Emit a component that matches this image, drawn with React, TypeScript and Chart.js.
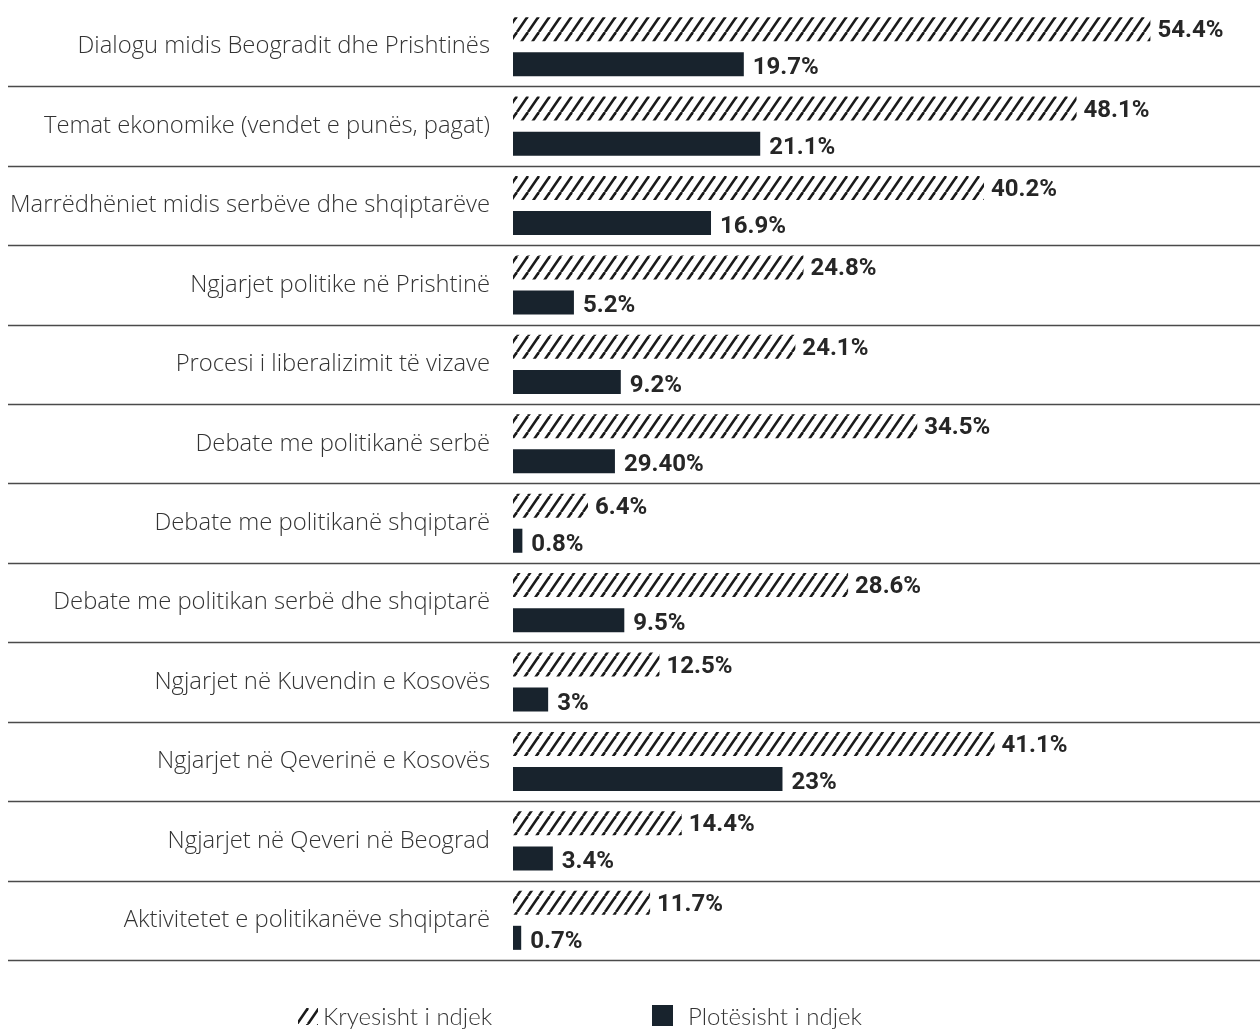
import React, { useEffect, useRef } from "react";
import { Chart, registerables } from "chart.js";

Chart.register(...registerables);

const categories = [
  "Dialogu midis Beogradit dhe Prishtinës",
  "Temat ekonomike (vendet e punës, pagat)",
  "Marrëdhëniet midis serbëve dhe shqiptarëve",
  "Ngjarjet politike në Prishtinë",
  "Procesi i liberalizimit të vizave",
  "Debate me politikanë serbë",
  "Debate me politikanë shqiptarë",
  "Debate me politikan serbë dhe shqiptarë",
  "Ngjarjet në Kuvendin e Kosovës",
  "Ngjarjet në Qeverinë e Kosovës",
  "Ngjarjet në Qeveri në Beograd",
  "Aktivitetet e politikanëve shqiptarë",
];

const mostlyValues = [54.4, 48.1, 40.2, 24.8, 24.1, 34.5, 6.4, 28.6, 12.5, 41.1, 14.4, 11.7];
const mostlyLabels = ["54.4%", "48.1%", "40.2%", "24.8%", "24.1%", "34.5%", "6.4%", "28.6%", "12.5%", "41.1%", "14.4%", "11.7%"];

const fullyValues = [19.7, 21.1, 16.9, 5.2, 9.2, 8.7, 0.8, 9.5, 3, 23, 3.4, 0.7];
const fullyLabels = ["19.7%", "21.1%", "16.9%", "5.2%", "9.2%", "29.40%", "0.8%", "9.5%", "3%", "23%", "3.4%", "0.7%"];

const seriesNames = ["Kryesisht i ndjek", "Plotësisht i ndjek"];
const valueLabels = [mostlyLabels, fullyLabels];

const SOLID = "#18232d";
const HATCH = "#1a1a1a";

function makeHatch(): CanvasPattern | string {
  const c = document.createElement("canvas");
  const w = 11;
  const h = 16;
  c.width = w;
  c.height = h;
  const ctx = c.getContext("2d");
  if (!ctx) return HATCH;
  ctx.strokeStyle = HATCH;
  ctx.lineWidth = 2.6;
  for (const dx of [-w, 0, w]) {
    ctx.beginPath();
    ctx.moveTo(dx, h);
    ctx.lineTo(dx + w, 0);
    ctx.stroke();
  }
  return ctx.createPattern(c, "repeat") || HATCH;
}

export default function App() {
  const ref = useRef<HTMLCanvasElement | null>(null);

  useEffect(() => {
    if (!ref.current) return;
    const hatch = makeHatch();

    const labelPlugin = {
      id: "valueLabels",
      afterDatasetsDraw(chart: any) {
        const ctx = chart.ctx;
        ctx.save();
        ctx.font = "bold 24px Roboto, 'DejaVu Sans', sans-serif";
        ctx.fillStyle = "#262626";
        ctx.textAlign = "left";
        ctx.textBaseline = "middle";
        chart.data.datasets.forEach((ds: any, di: number) => {
          const meta = chart.getDatasetMeta(di);
          meta.data.forEach((el: any, i: number) => {
            const off = di === 0 ? 2 : 4;
            ctx.fillText(valueLabels[di][i], el.x + (di === 0 ? 7 : 9), el.y + off);
          });
        });
        ctx.restore();
      },
    };

    const separatorPlugin = {
      id: "separators",
      afterDraw(chart: any) {
        const ctx = chart.ctx;
        const ys = chart.scales.y;
        const n = categories.length;
        const step = ys.getPixelForValue(1) - ys.getPixelForValue(0);
        ctx.save();
        ctx.strokeStyle = "#4a4a4a";
        ctx.lineWidth = 1.6;
        for (let i = 0; i < n; i++) {
          const y = Math.round(ys.getPixelForValue(i) + step / 2) + 0.5;
          ctx.beginPath();
          ctx.moveTo(8, y);
          ctx.lineTo(chart.width, y);
          ctx.stroke();
        }
        ctx.restore();
      },
    };

    const legendPlugin = {
      id: "customLegend",
      afterDraw(chart: any) {
        const ctx = chart.ctx;
        ctx.save();
        const cy = 1017;
        ctx.fillStyle = hatch;
        ctx.fillRect(298, 1008, 20, 17);
        ctx.fillStyle = SOLID;
        ctx.fillRect(652, 1005, 21, 21);
        ctx.font = "300 24px Lato, 'Open Sans', sans-serif";
        ctx.fillStyle = "#333333";
        ctx.textBaseline = "middle";
        ctx.textAlign = "left";
        ctx.fillText(seriesNames[0], 323, cy);
        ctx.fillText(seriesNames[1], 688, cy);
        ctx.restore();
      },
    };

    const chart = new Chart(ref.current, {
      type: "bar",
      data: {
        labels: categories,
        datasets: [
          {
            label: seriesNames[0],
            data: mostlyValues,
            backgroundColor: hatch as any,
            borderWidth: 0,
            categoryPercentage: 0.883,
            barPercentage: 0.686,
          },
          {
            label: seriesNames[1],
            data: fullyValues,
            backgroundColor: SOLID,
            borderWidth: 0,
            categoryPercentage: 0.883,
            barPercentage: 0.686,
          },
        ],
      },
      options: {
        indexAxis: "y",
        responsive: false,
        animation: false,
        devicePixelRatio: 1,
        layout: { padding: { left: 0, right: 44, top: 7, bottom: 71 } },
        plugins: {
          legend: { display: false },
          tooltip: { enabled: false },
        },
        scales: {
          x: {
            display: false,
            min: 0,
            max: 60,
          },
          y: {
            afterFit(scale: any) {
              scale.width = 513;
              scale.paddingTop = 0;
              scale.paddingBottom = 0;
            },
            grid: { display: false, drawTicks: false },
            border: { display: false },
            ticks: {
              autoSkip: false,
              padding: 23,
              color: "#333333",
              font: { family: "'Open Sans', Lato, sans-serif", size: 23.8, weight: "300" as any },
            },
          },
        },
      },
      plugins: [labelPlugin, separatorPlugin, legendPlugin],
    });

    return () => chart.destroy();
  }, []);

  return (
    <div style={{ position: "absolute", left: 0, top: 0, width: 1260, height: 1031, background: "#fff" }}>
      <canvas ref={ref} width={1260} height={1031} />
    </div>
  );
}
